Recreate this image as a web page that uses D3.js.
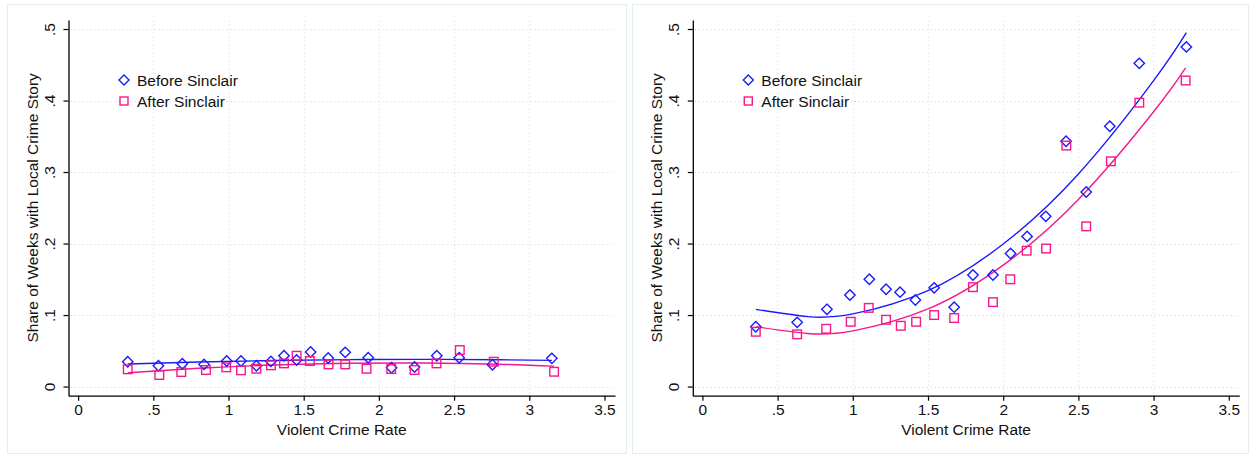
<!DOCTYPE html>
<html>
<head>
<meta charset="utf-8">
<script src="https://cdn.jsdelivr.net/npm/d3@7"></script>
<style>
  body { margin: 0; background: #fff; }
  svg { display: block; font-family: "Liberation Sans", Arial, sans-serif; }
</style>
</head>
<body>
<svg id="chart" width="1252" height="458"></svg>
<script>
// Binned scatter: violent crime rate vs share of weeks with a local crime story
const xTicks = [0, 0.5, 1, 1.5, 2, 2.5, 3, 3.5];
const yTicks = [0, 0.1, 0.2, 0.3, 0.4, 0.5];
const seriesNames = ["Before Sinclair", "After Sinclair"];

// Left panel
const leftBeforeX = [0.330, 0.534, 0.693, 0.837, 0.988, 1.083, 1.185, 1.282, 1.369, 1.453, 1.546, 1.663, 1.776, 1.929, 2.084, 2.237, 2.385, 2.534, 2.755, 3.150];
const leftBeforeY = [0.0347, 0.0291, 0.0319, 0.0310, 0.0357, 0.0357, 0.0291, 0.0352, 0.0431, 0.0371, 0.0483, 0.0399, 0.0478, 0.0403, 0.0263, 0.0273, 0.0431, 0.0403, 0.0305, 0.0394];
const leftAfterX = [0.330, 0.540, 0.686, 0.850, 0.985, 1.083, 1.185, 1.282, 1.369, 1.453, 1.541, 1.665, 1.776, 1.918, 2.082, 2.237, 2.383, 2.538, 2.764, 3.165];
const leftAfterY = [0.0241, 0.0161, 0.0203, 0.0231, 0.0269, 0.0227, 0.0249, 0.0297, 0.0324, 0.0431, 0.0357, 0.0310, 0.0310, 0.0249, 0.0245, 0.0231, 0.0324, 0.0510, 0.0347, 0.0207];
// Quadratic fit curves, left panel
const leftBeforeFitX = [0.33, 0.8, 1.3, 1.8, 2.3, 2.8, 3.15];
const leftBeforeFitY = [0.0315, 0.0343, 0.0364, 0.0376, 0.0380, 0.0375, 0.0366];
const leftAfterFitX = [0.33, 0.8, 1.3, 1.8, 2.3, 2.8, 3.165];
const leftAfterFitY = [0.0193, 0.0255, 0.0301, 0.0325, 0.0329, 0.0312, 0.0285];

// Right panel
const rightBeforeX = [0.355, 0.630, 0.828, 0.981, 1.110, 1.221, 1.314, 1.416, 1.541, 1.674, 1.799, 1.932, 2.049, 2.159, 2.283, 2.418, 2.552, 2.709, 2.905, 3.218];
const rightBeforeY = [0.0836, 0.0898, 0.108, 0.128, 0.150, 0.136, 0.132, 0.121, 0.138, 0.111, 0.156, 0.156, 0.186, 0.210, 0.238, 0.343, 0.272, 0.364, 0.452, 0.475];
const rightAfterX = [0.355, 0.630, 0.823, 0.986, 1.106, 1.221, 1.319, 1.421, 1.541, 1.674, 1.799, 1.932, 2.047, 2.156, 2.285, 2.420, 2.552, 2.716, 2.905, 3.213];
const rightAfterY = [0.0766, 0.0730, 0.0808, 0.0906, 0.110, 0.0934, 0.085, 0.0906, 0.100, 0.0958, 0.139, 0.118, 0.150, 0.190, 0.193, 0.337, 0.224, 0.315, 0.397, 0.428];
// Quadratic fit curves, right panel
const rightBeforeFitX = [0.355, 0.7, 1.0, 1.5, 2.0, 2.5, 3.0, 3.218];
const rightBeforeFitY = [0.1080, 0.0978, 0.1016, 0.1341, 0.1993, 0.2972, 0.4278, 0.4950];
const rightAfterFitX = [0.355, 0.7, 1.0, 1.5, 2.0, 2.5, 3.0, 3.213];
const rightAfterFitY = [0.0837, 0.0742, 0.0779, 0.1085, 0.1698, 0.2617, 0.3843, 0.4458];

const BLUE = "#1a1aff";
const PINK = "#f5188a";
const FONT = "15.5px";

const zip = (xs, ys) => xs.map((x, i) => [x, ys[i]]);
const fmt = d => d === 0 ? "0" : String(d).replace(/^0\./, ".");

const svg = d3.select("#chart");

const panels = [
  { ox: 0, frame: [7, 4, 619, 449],
    before: zip(leftBeforeX, leftBeforeY), after: zip(leftAfterX, leftAfterY),
    beforeFit: zip(leftBeforeFitX, leftBeforeFitY), afterFit: zip(leftAfterFitX, leftAfterFitY) },
  { ox: 624.3, frame: [632, 4, 616, 449],
    before: zip(rightBeforeX, rightBeforeY), after: zip(rightAfterX, rightAfterY),
    beforeFit: zip(rightBeforeFitX, rightBeforeFitY), afterFit: zip(rightAfterFitX, rightAfterFitY) }
];

panels.forEach(p => {
  // panel frame
  svg.append("rect")
    .attr("x", p.frame[0] + 0.5).attr("y", p.frame[1] + 0.5)
    .attr("width", p.frame[2]).attr("height", p.frame[3])
    .attr("fill", "#fff").attr("stroke", "#e4ecec").attr("stroke-width", 1);

  const g = svg.append("g").attr("transform", `translate(${p.ox},0)`);
  const x = d3.scaleLinear().domain([-0.064, 3.57]).range([68.5, 615]);
  const y = d3.scaleLinear().domain([-0.0128, 0.5126]).range([395.7, 20]);

  // dotted grid
  g.append("g").selectAll("line").data(yTicks).join("line")
    .attr("x1", x(-0.064) + 2).attr("x2", x(3.57))
    .attr("y1", d => Math.round(y(d)) + 0.5).attr("y2", d => Math.round(y(d)) + 0.5)
    .attr("stroke", "#d4d4d4").attr("stroke-width", 1).attr("stroke-dasharray", "1,3");
  g.append("g").selectAll("line").data(xTicks.filter(d => d > 0 && d < 3.5)).join("line")
    .attr("y1", y(-0.0128) - 2).attr("y2", y(0.5126))
    .attr("x1", d => Math.round(x(d)) + 0.5).attr("x2", d => Math.round(x(d)) + 0.5)
    .attr("stroke", "#d4d4d4").attr("stroke-width", 1).attr("stroke-dasharray", "1,3");

  // axes
  const xAxis = g.append("g").attr("transform", `translate(0,${y(-0.0128)})`)
    .call(d3.axisBottom(x).tickValues(xTicks).tickFormat(fmt).tickSize(5).tickSizeOuter(0).tickPadding(3));
  const yAxis = g.append("g").attr("transform", `translate(${x(-0.064)},0)`)
    .call(d3.axisLeft(y).tickValues(yTicks).tickFormat(fmt).tickSize(5).tickSizeOuter(0).tickPadding(0));
  [xAxis, yAxis].forEach(a => {
    a.select(".domain").attr("stroke", "#000").attr("stroke-width", 1.3);
    a.selectAll(".tick line").attr("stroke", "#000").attr("stroke-width", 1.2);
    a.selectAll("text").attr("fill", "#111").style("font-size", FONT)
      .style("font-family", "'Liberation Sans', Arial, sans-serif");
  });
  yAxis.selectAll(".tick text")
    .attr("x", 0).attr("dy", 0)
    .attr("text-anchor", "middle")
    .attr("transform", "translate(-14,0) rotate(-90)")
    .attr("y", 0);

  // axis titles
  g.append("text")
    .attr("x", (x(-0.064) + x(3.57)) / 2).attr("y", 435)
    .attr("text-anchor", "middle").attr("fill", "#111").style("font-size", FONT)
    .text("Violent Crime Rate");
  g.append("text")
    .attr("transform", `translate(37.5,${(y(-0.0128) + y(0.5126)) / 2}) rotate(-90)`)
    .attr("text-anchor", "middle").attr("fill", "#111").style("font-size", FONT)
    .text("Share of Weeks with Local Crime Story");

  // fit lines
  const line = d3.line().x(d => x(d[0])).y(d => y(d[1])).curve(d3.curveNatural);
  g.append("path").datum(p.beforeFit).attr("d", line)
    .attr("fill", "none").attr("stroke", BLUE).attr("stroke-width", 1.4);
  g.append("path").datum(p.afterFit).attr("d", line)
    .attr("fill", "none").attr("stroke", PINK).attr("stroke-width", 1.4);

  // markers
  const diamond = 5.2, half = 4.3;
  g.append("g").selectAll("path").data(p.before).join("path")
    .attr("d", d => {
      const cx = x(d[0]), cy = y(d[1]);
      return `M${cx},${cy - diamond}L${cx + diamond},${cy}L${cx},${cy + diamond}L${cx - diamond},${cy}Z`;
    })
    .attr("fill", "none").attr("stroke", BLUE).attr("stroke-width", 1.4);
  g.append("g").selectAll("rect").data(p.after).join("rect")
    .attr("x", d => x(d[0]) - half).attr("y", d => y(d[1]) - half)
    .attr("width", half * 2).attr("height", half * 2)
    .attr("fill", "none").attr("stroke", PINK).attr("stroke-width", 1.4);

  // legend
  const lg = g.append("g").attr("transform", "translate(124,0)");
  const ly = [80, 101];
  lg.append("path")
    .attr("d", `M0,${ly[0] - 5}L5,${ly[0]}L0,${ly[0] + 5}L-5,${ly[0]}Z`)
    .attr("fill", "none").attr("stroke", BLUE).attr("stroke-width", 1.4);
  lg.append("rect").attr("x", -4).attr("y", ly[1] - 4).attr("width", 8).attr("height", 8)
    .attr("fill", "none").attr("stroke", PINK).attr("stroke-width", 1.4);
  seriesNames.forEach((name, i) => {
    lg.append("text").attr("x", 13).attr("y", ly[i] + 5.5)
      .attr("fill", "#111").style("font-size", FONT).text(name);
  });
});
</script>
</body>
</html>
